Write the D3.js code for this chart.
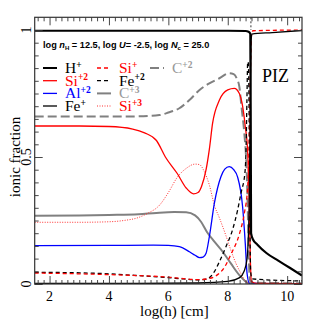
<!DOCTYPE html>
<html><head><meta charset="utf-8">
<script src="https://cdn.jsdelivr.net/npm/d3@7"></script>
<style>html,body{margin:0;padding:0;background:#fff;}svg{display:block;}</style>
</head><body>
<script>
// ---- data (log h [cm], ionic fraction) ----
const xTicks = [2, 4, 6, 8, 10];
const yTicks = [0, 0.5, 1];
const yTickLabels = ["0", "0.5", "1"];

const hPlus = [[1.5,0.997],[4,0.997],[8,0.997],[8.6,0.996],[8.7,0.993],[8.76,0.985],[8.775,0.6],[8.785,0.2],[8.85,0.175],[9.0,0.155],[9.3,0.122],[9.7,0.092],[10.1,0.063],[10.5,0.033]];
const siPlus = [[1.5,0.043],[3,0.04],[4,0.037],[5,0.033],[6,0.027],[6.5,0.021],[7,0.017],[7.3,0.02],[7.6,0.032],[7.9,0.068],[8.1,0.115],[8.4,0.2],[8.56,0.28],[8.67,0.38],[8.73,0.6],[8.77,0.87],[8.8,0.98],[8.85,0.997],[10.5,1.0]];
const c2Plus = [[1.5,0.659],[4,0.659],[5,0.66],[5.7,0.665],[6.0,0.675],[6.37,0.692],[6.71,0.724],[7.05,0.764],[7.38,0.79],[7.72,0.81],[8.05,0.83],[8.2,0.826],[8.3,0.81],[8.39,0.777],[8.46,0.7],[8.56,0.59],[8.62,0.49],[8.66,0.36],[8.7,0.15],[8.73,0.04],[8.77,0.005],[10.5,0.003]];
const si2Plus = [[1.5,0.622],[3,0.622],[4,0.62],[4.8,0.61],[5.2,0.595],[5.6,0.565],[5.9,0.5],[6.3,0.435],[6.6,0.378],[6.85,0.355],[7.0,0.36],[7.12,0.385],[7.27,0.45],[7.38,0.53],[7.49,0.633],[7.72,0.724],[8.0,0.764],[8.22,0.77],[8.39,0.75],[8.5,0.7],[8.59,0.62],[8.67,0.52],[8.72,0.34],[8.76,0.1],[8.8,0.01],[9,0.002],[10.5,0.001]];
const fe2Plus = [[1.5,0.046],[3,0.044],[4,0.04],[5,0.033],[6,0.025],[6.5,0.02],[7,0.016],[7.3,0.02],[7.5,0.04],[7.72,0.088],[7.94,0.147],[8.16,0.213],[8.33,0.29],[8.45,0.36],[8.58,0.44],[8.62,0.55],[8.645,0.72],[8.67,0.87],[8.69,0.875],[8.71,0.78],[8.73,0.5],[8.75,0.2],[8.77,0.05],[8.82,0.02],[10.5,0.012]];
const al2Plus = [[1.5,0.151],[4,0.152],[5.5,0.153],[6.0,0.152],[6.37,0.147],[6.71,0.127],[6.9,0.113],[7.05,0.104],[7.17,0.106],[7.27,0.121],[7.38,0.186],[7.55,0.318],[7.77,0.422],[7.9,0.452],[8.05,0.462],[8.2,0.45],[8.33,0.422],[8.5,0.304],[8.59,0.16],[8.65,0.042],[8.73,0.003],[10.5,0.0]];
const c3Plus = [[1.5,0.269],[3,0.27],[4,0.272],[5,0.275],[5.6,0.28],[6.2,0.283],[6.6,0.282],[6.9,0.27],[7.1,0.245],[7.3,0.205],[7.55,0.167],[7.83,0.127],[8.11,0.08],[8.39,0.035],[8.61,0.009],[8.8,0.0],[10.5,0.0]];
const fePlus = [[1.5,0.002],[5,0.002],[7,0.004],[8,0.01],[8.4,0.025],[8.55,0.05],[8.65,0.1],[8.72,0.3],[8.76,0.7],[8.785,0.95],[8.81,0.984],[9.5,0.99],[10.5,0.998]];
const si3Plus = [[1.5,0.243],[3,0.243],[4,0.245],[4.5,0.25],[5,0.262],[5.3,0.278],[5.7,0.31],[6.0,0.36],[6.3,0.42],[6.6,0.455],[6.9,0.472],[7.05,0.47],[7.2,0.445],[7.38,0.39],[7.55,0.31],[7.72,0.26],[7.94,0.19],[8.1,0.135],[8.28,0.08],[8.45,0.04],[8.56,0.016],[8.7,0.003],[10.5,0.0]];
const pizBoundary = 8.78;

const legendLabels = [
  {name:"H", sup:"+", color:"#000", dash:null, w:2, col:0, row:0},
  {name:"Si", sup:"+2", color:"#f00", dash:null, w:1.3, col:0, row:1},
  {name:"Al", sup:"+2", color:"#00f", dash:null, w:1.3, col:0, row:2},
  {name:"Fe", sup:"+", color:"#000", dash:null, w:1.3, col:0, row:3},
  {name:"Si", sup:"+", color:"#f00", dash:"4,3", w:1.3, col:1, row:0},
  {name:"Fe", sup:"+2", color:"#000", dash:"4,3", w:1.3, col:1, row:1},
  {name:"C", sup:"+3", color:"#808080", dash:null, w:2, col:1, row:2, tcolor:"#999"},
  {name:"Si", sup:"+3", color:"#ff3030", dash:"1,1.5", w:1, col:1, row:3, tcolor:"#f00"},
  {name:"C", sup:"+2", color:"#808080", dash:"9,4", w:2, col:2, row:0, tcolor:"#999"}
];

const series = [
  {data:c3Plus, color:"#808080", dash:null, w:2},
  {data:si3Plus, color:"#ff3030", dash:"1,1.5", w:1},
  {data:al2Plus, color:"#0000ff", dash:null, w:1.3},
  {data:c2Plus, color:"#808080", dash:"9,4", w:2},
  {data:si2Plus, color:"#ff0000", dash:null, w:1.3},
  {data:fe2Plus, color:"#000", dash:"4,3", w:1.3},
  {data:siPlus, color:"#ff0000", dash:"4,3", w:1.3},
  {data:fePlus, color:"#000", dash:null, w:1.3},
  {data:hPlus, color:"#000", dash:null, w:2.2}
];

// ---- layout ----
const W = 319, H = 319;
const L = 34.7, R = 302, T = 17.3, B = 284;
const x = d3.scaleLinear().domain([1.5, 10.5]).range([L, R]);
const y = d3.scaleLinear().domain([0, 1.05]).range([B, T]);

const svg = d3.select("body").append("svg").attr("width", W).attr("height", H);

svg.append("clipPath").attr("id","clip").append("rect")
  .attr("x", L).attr("y", T).attr("width", R-L).attr("height", B-T);

const g = svg.append("g").attr("clip-path","url(#clip)");
const line = d3.line().x(d => x(d[0])).y(d => y(d[1])).curve(d3.curveMonotoneX);

// dashed PIZ boundary marker at top
g.append("line").attr("x1", x(pizBoundary)).attr("x2", x(pizBoundary))
  .attr("y1", T).attr("y2", y(1.0)).attr("stroke","#000").attr("stroke-width",0.8).attr("stroke-dasharray","2,2");

series.forEach(s => {
  g.append("path").attr("d", line(s.data)).attr("fill","none")
    .attr("stroke", s.color).attr("stroke-width", s.w)
    .attr("stroke-dasharray", s.dash).attr("stroke-linejoin","round");
});

// ---- axes (inward ticks) ----
const axisColor = "#333";
const xMinor = d3.range(1.6, 10.5, 0.2).filter(v => Math.abs(v/2 - Math.round(v/2)) > 1e-6);
const yMinor = d3.range(0.05, 1.05, 0.05).filter(v => Math.abs(v*2 - Math.round(v*2)) > 1e-6);

function addAxis(axisGen, transform) {
  const a = svg.append("g").attr("transform", transform).call(axisGen);
  a.selectAll("path").remove();
  a.selectAll("line").attr("stroke", axisColor).attr("stroke-width", 0.9);
  return a;
}
addAxis(d3.axisBottom(x).tickValues(xTicks).tickSize(-8).tickFormat(""), `translate(0,${B})`);
addAxis(d3.axisBottom(x).tickValues(xMinor).tickSize(-4).tickFormat(""), `translate(0,${B})`);
addAxis(d3.axisTop(x).tickValues(xTicks).tickSize(-8).tickFormat(""), `translate(0,${T})`);
addAxis(d3.axisTop(x).tickValues(xMinor).tickSize(-4).tickFormat(""), `translate(0,${T})`);
addAxis(d3.axisLeft(y).tickValues(yTicks).tickSize(-8).tickFormat(""), `translate(${L},0)`);
addAxis(d3.axisLeft(y).tickValues(yMinor).tickSize(-4).tickFormat(""), `translate(${L},0)`);
addAxis(d3.axisRight(y).tickValues(yTicks).tickSize(-8).tickFormat(""), `translate(${R},0)`);
addAxis(d3.axisRight(y).tickValues(yMinor).tickSize(-4).tickFormat(""), `translate(${R},0)`);

svg.append("rect").attr("x", L).attr("y", T).attr("width", R-L).attr("height", B-T)
  .attr("fill","none").attr("stroke", axisColor).attr("stroke-width", 1.2);

const serif = "'Liberation Serif','DejaVu Serif',serif";
svg.append("g").selectAll("text").data(xTicks).join("text")
  .attr("x", d => x(d)).attr("y", 301).attr("text-anchor","middle")
  .attr("font-family", serif).attr("font-size", 14).attr("fill","#000").text(d => d);
svg.append("g").selectAll("text").data(yTicks).join("text")
  .attr("transform", (d) => `translate(31,${y(d)}) rotate(-90)`).attr("text-anchor","middle")
  .attr("font-family", serif).attr("font-size", 14).attr("fill","#000").text((d,i) => yTickLabels[i]);
svg.append("text").attr("x", (L+R)/2 + 6).attr("y", 316).attr("text-anchor","middle")
  .attr("font-family", serif).attr("font-size", 15).text("log(h) [cm]");
svg.append("text").attr("transform", `translate(20,${y(0.5)}) rotate(-90)`).attr("text-anchor","middle")
  .attr("font-family", serif).attr("font-size", 15).text("ionic fraction");

// header text
const hdr = svg.append("text").attr("x", 43).attr("y", 48)
  .attr("font-family","'Liberation Sans',Arial,sans-serif").attr("font-weight","bold").attr("font-size", 9.2);
hdr.append("tspan").text("log ");
hdr.append("tspan").attr("font-style","italic").text("n");
hdr.append("tspan").attr("font-size",6).attr("dy",2).text("H");
hdr.append("tspan").attr("dy",-2).text(" = 12.5, log ");
hdr.append("tspan").attr("font-style","italic").text("U");
hdr.append("tspan").text("= -2.5, log ");
hdr.append("tspan").attr("font-style","italic").text("N");
hdr.append("tspan").attr("font-size",6).attr("dy",2).text("c");
hdr.append("tspan").attr("dy",-2).text(" = 25.0");

// legend
const colX = [43, 97, 150];
const rowY = [68, 80.7, 93.4, 106];
legendLabels.forEach(l => {
  const lx = colX[l.col], ly = rowY[l.row];
  svg.append("line").attr("x1", lx).attr("x2", lx+14).attr("y1", ly).attr("y2", ly)
    .attr("stroke", l.color).attr("stroke-width", l.w).attr("stroke-dasharray", l.dash);
  const t = svg.append("text").attr("x", lx + 22).attr("y", ly + 5)
    .attr("font-family", serif).attr("font-size", 15.5).attr("fill", l.tcolor || l.color);
  t.append("tspan").text(l.name);
  t.append("tspan").attr("font-size", 9.5).attr("font-weight","bold").attr("dy", -5.5).text(l.sup);
});

svg.append("text").attr("x", 262).attr("y", 82).attr("font-family", serif).attr("font-size", 18).text("PIZ");
</script>
</body></html>
